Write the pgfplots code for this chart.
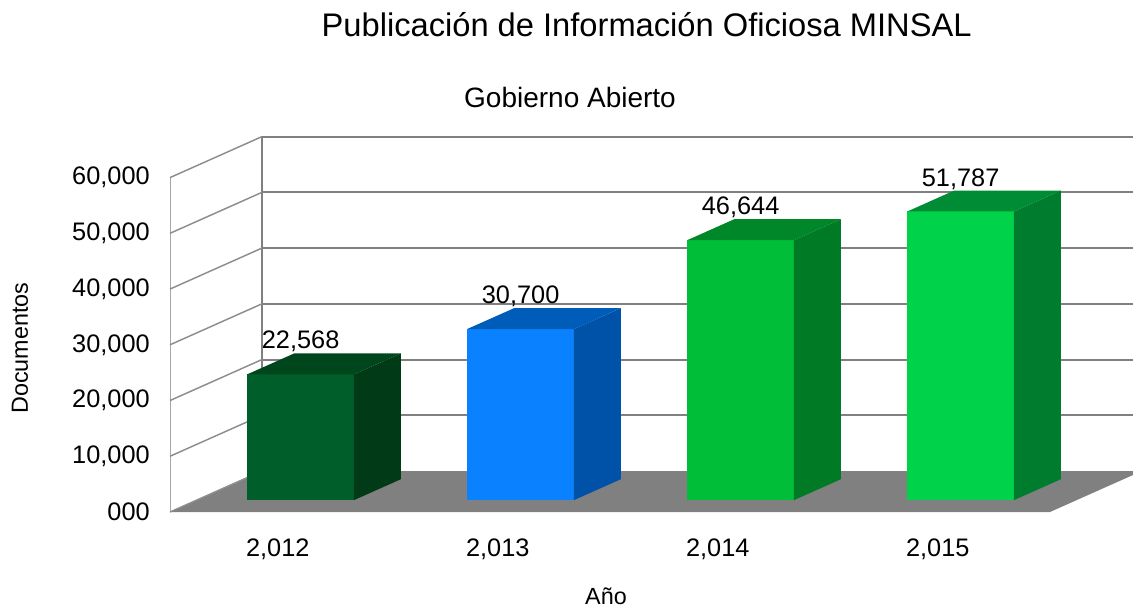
\documentclass[border=0pt]{standalone}
\usepackage{fontspec}
\setmainfont{Liberation Sans}
\usepackage{pgfplots}
\pgfplotsset{compat=1.18}
\definecolor{fA}{RGB}{0,94,42}
\definecolor{sA}{RGB}{0,58,23}
\definecolor{tA}{RGB}{0,70,28}
\definecolor{fB}{RGB}{10,130,255}
\definecolor{sB}{RGB}{0,82,168}
\definecolor{tB}{RGB}{0,92,185}
\definecolor{fC}{RGB}{0,190,55}
\definecolor{sC}{RGB}{0,122,37}
\definecolor{tC}{RGB}{0,135,42}
\definecolor{fD}{RGB}{0,210,74}
\definecolor{sD}{RGB}{0,124,46}
\definecolor{tD}{RGB}{0,140,53}
\definecolor{floorgray}{RGB}{128,128,128}
\definecolor{gridgray}{RGB}{128,128,128}
\begin{document}
\begin{tikzpicture}
\useasboundingbox (0,0) rectangle (849.75pt,456pt);
\clip (0,0) rectangle (849.75pt,456pt);
\node[font=\fontsize{24.5}{28}\selectfont] at (485pt,437.25pt) {Publicación de Información Oficiosa MINSAL};
\node[font=\fontsize{21}{25}\selectfont] at (427.5pt,383.25pt) {Gobierno Abierto};
\node[font=\fontsize{17.5}{21}\selectfont, rotate=90] at (15pt,195pt) {Documentos};
\node[font=\fontsize{17.5}{21}\selectfont] at (454.5pt,8.5pt) {Año};
\begin{axis}[
  at={(127.5pt,72pt)}, anchor=origin,
  x={(165pt,0pt)}, y={(69pt,30.75pt)}, z={(0pt,0.0041875pt)},
  xmin=0, xmax=4, ymin=0, ymax=1, zmin=0, zmax=60000,
  clip=false,
  axis lines=none,
  xtick=\empty, ytick=\empty, ztick=\empty,
]
% floor
\addplot3[fill=floorgray, draw=none] coordinates {(0,0,0) (4,0,0) (4,1,0) (0,1,0)};
% walls
\addplot3[gray!70, line width=0.7pt] coordinates {(0,0,0) (0,0,60000)};
\addplot3[gridgray, line width=1.6pt] coordinates {(0,1,0) (0,1,60000)};
\pgfplotsinvokeforeach{0,10000,20000,30000,40000,50000,60000}{
  \addplot3[gridgray!90, line width=1.1pt] coordinates {(0,0,#1) (0,1,#1)};
}
\pgfplotsinvokeforeach{10000,20000,30000,40000,50000,60000}{
  \addplot3[gridgray, line width=1.5pt] coordinates {(0,1,#1) (4,1,#1)};
}
% bar 2012
\addplot3[fill=fA, draw=none] coordinates {(0.23,0.29,0) (0.715,0.29,0) (0.715,0.29,22568) (0.23,0.29,22568)};
\addplot3[fill=sA, draw=none] coordinates {(0.715,0.29,0) (0.715,0.80,0) (0.715,0.80,22568) (0.715,0.29,22568)};
\addplot3[fill=tA, draw=none] coordinates {(0.23,0.29,22568) (0.715,0.29,22568) (0.715,0.80,22568) (0.23,0.80,22568)};
% bar 2013
\addplot3[fill=fB, draw=none] coordinates {(1.23,0.29,0) (1.715,0.29,0) (1.715,0.29,30700) (1.23,0.29,30700)};
\addplot3[fill=sB, draw=none] coordinates {(1.715,0.29,0) (1.715,0.80,0) (1.715,0.80,30700) (1.715,0.29,30700)};
\addplot3[fill=tB, draw=none] coordinates {(1.23,0.29,30700) (1.715,0.29,30700) (1.715,0.80,30700) (1.23,0.80,30700)};
% bar 2014
\addplot3[fill=fC, draw=none] coordinates {(2.23,0.29,0) (2.715,0.29,0) (2.715,0.29,46644) (2.23,0.29,46644)};
\addplot3[fill=sC, draw=none] coordinates {(2.715,0.29,0) (2.715,0.80,0) (2.715,0.80,46644) (2.715,0.29,46644)};
\addplot3[fill=tC, draw=none] coordinates {(2.23,0.29,46644) (2.715,0.29,46644) (2.715,0.80,46644) (2.23,0.80,46644)};
% bar 2015
\addplot3[fill=fD, draw=none] coordinates {(3.23,0.29,0) (3.715,0.29,0) (3.715,0.29,51787) (3.23,0.29,51787)};
\addplot3[fill=sD, draw=none] coordinates {(3.715,0.29,0) (3.715,0.80,0) (3.715,0.80,51787) (3.715,0.29,51787)};
\addplot3[fill=tD, draw=none] coordinates {(3.23,0.29,51787) (3.715,0.29,51787) (3.715,0.80,51787) (3.23,0.80,51787)};
% value labels
\begin{scope}[every node/.style={font=\fontsize{19}{22}\selectfont, inner sep=0pt, anchor=base, yshift=19pt}]
\node at (axis cs:0.4725,0.29,22568) {22,568};
\node at (axis cs:1.4725,0.29,30700) {30,700};
\node at (axis cs:2.4725,0.29,46644) {46,644};
\node at (axis cs:3.4725,0.29,51787) {51,787};
\end{scope}
% tick labels
\begin{scope}[every node/.style={font=\fontsize{19}{22}\selectfont, inner sep=0pt, anchor=east, xshift=-15pt}]
\node at (axis cs:0,0,0) {000};
\node at (axis cs:0,0,10000) {10,000};
\node at (axis cs:0,0,20000) {20,000};
\node at (axis cs:0,0,30000) {30,000};
\node at (axis cs:0,0,40000) {40,000};
\node at (axis cs:0,0,50000) {50,000};
\node at (axis cs:0,0,60000) {60,000};
\end{scope}
\begin{scope}[every node/.style={font=\fontsize{19}{22}\selectfont, inner sep=0pt, anchor=north, yshift=-20pt}]
\node at (axis cs:0.49,0,0) {2,012};
\node at (axis cs:1.49,0,0) {2,013};
\node at (axis cs:2.49,0,0) {2,014};
\node at (axis cs:3.49,0,0) {2,015};
\end{scope}
\end{axis}
\end{tikzpicture}
\end{document}
